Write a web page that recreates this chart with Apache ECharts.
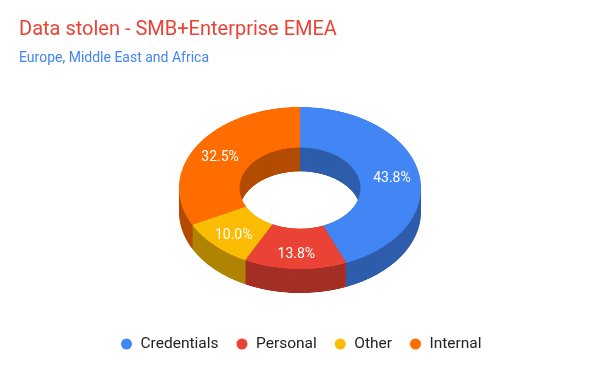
<!DOCTYPE html>
<html>
<head>
<meta charset="utf-8">
<script src="https://cdn.jsdelivr.net/npm/echarts@6/dist/echarts.min.js"></script>
<style>
html, body { margin: 0; padding: 0; background: #ffffff; }
#wrap { position: relative; width: 600px; height: 371px; overflow: hidden; background: #ffffff; }
#body3d { position: absolute; left: 0; top: 0; width: 600px; transform-origin: 0 0; }
#front { position: absolute; left: 0; top: 0; width: 600px; height: 371px; }
</style>
</head>
<body>
<div id="wrap"><div id="body3d"></div><div id="front"></div></div>
<script>
// ---- data ----
const categories = ['Credentials', 'Personal', 'Other', 'Internal'];
const values = [35, 11, 8, 26];
const colors = ['#4285f4', '#ea4335', '#fbbc04', '#ff6d01'];
const sideColors = ['#2e5dab', '#a42f25', '#b08403', '#b34c01'];
const titleText = 'Data stolen - SMB+Enterprise EMEA';
const subtitleText = 'Europe, Middle East and Africa';

// ---- geometry / style ----
const TILT = 0.67;          // vertical squash of the donut (ellipse ratio)
const CX = 300, CY = 188;   // centre of the top face (screen px)
const R_OUT = 121, R_IN = 60.5, DEPTH = 24;
const LC = 190.5, LK = 0.68; // label ellipse centre / ratio

const total = values.reduce((a, b) => a + b, 0);

// ---- 3D body (squashed with CSS so the circle becomes an ellipse) ----
const bodyEl = document.getElementById('body3d');
bodyEl.style.height = Math.ceil(371 / TILT) + 'px';
bodyEl.style.transform = 'scaleY(' + TILT + ')';
const chartB = echarts.init(bodyEl, null, { renderer: 'canvas', devicePixelRatio: 2 });

function pieLayer(cy, cols) {
  return {
    type: 'pie', silent: true, animation: false,
    startAngle: 90, clockwise: true,
    center: [CX, cy / TILT], radius: [R_IN, R_OUT],
    label: { show: false }, labelLine: { show: false },
    emphasis: { disabled: true },
    itemStyle: { borderWidth: 0 },
    data: categories.map((c, i) => ({ name: c, value: values[i], itemStyle: { color: cols[i] } }))
  };
}
const bodySeries = [];
for (let d = DEPTH; d >= 1; d -= 1) bodySeries.push(pieLayer(CY + d, sideColors));
bodySeries.push(pieLayer(CY, colors));
chartB.setOption({
  animation: false,
  legend: { show: false, data: categories },
  series: bodySeries
});

// ---- front layer: titles, legend, slice labels ----
const chartA = echarts.init(document.getElementById('front'), null, { renderer: 'canvas' });
chartA.setOption({
  animation: false,
  title: [
    { text: titleText, left: 19, top: 20, padding: 0,
      textStyle: { fontFamily: 'Roboto', fontSize: 20, fontWeight: 'normal', color: '#ea4335' } },
    { text: subtitleText, left: 19, top: 51, padding: 0,
      textStyle: { fontFamily: 'Roboto', fontSize: 14, fontWeight: 'normal', color: '#4285f4' } }
  ],
  legend: {
    left: 121, top: 336, padding: 0,
    icon: 'circle', itemWidth: 18, itemHeight: 11, itemGap: 18,
    textStyle: { fontFamily: 'Roboto', fontSize: 15.5, color: '#222222' },
    itemStyle: { opacity: 1 },
    data: categories.map((c, i) => ({ name: c, itemStyle: { color: colors[i], opacity: 1 } }))
  },
  series: [{
    type: 'pie', startAngle: 90, clockwise: true,
    center: [CX, LC], radius: [R_IN, R_OUT],
    itemStyle: { color: 'rgba(0,0,0,0)' },
    emphasis: { disabled: true },
    labelLine: { show: false },
    label: {
      show: true, position: 'inside', color: '#ffffff',
      fontFamily: 'Roboto', fontSize: 14,
      formatter: p => (p.value / total * 100).toFixed(1) + '%'
    },
    labelLayout: function (p) {
      const r = p.labelRect;
      const mx = r.x + r.width / 2, my = r.y + r.height / 2;
      return { x: mx, y: LC + (my - LC) * LK };
    },
    data: categories.map((c, i) => ({ name: c, value: values[i] }))
  }]
});
chartA.on('legendselectchanged', e => {
  chartB.dispatchAction({ type: 'legendToggleSelect', name: e.name });
});
</script>
</body>
</html>
